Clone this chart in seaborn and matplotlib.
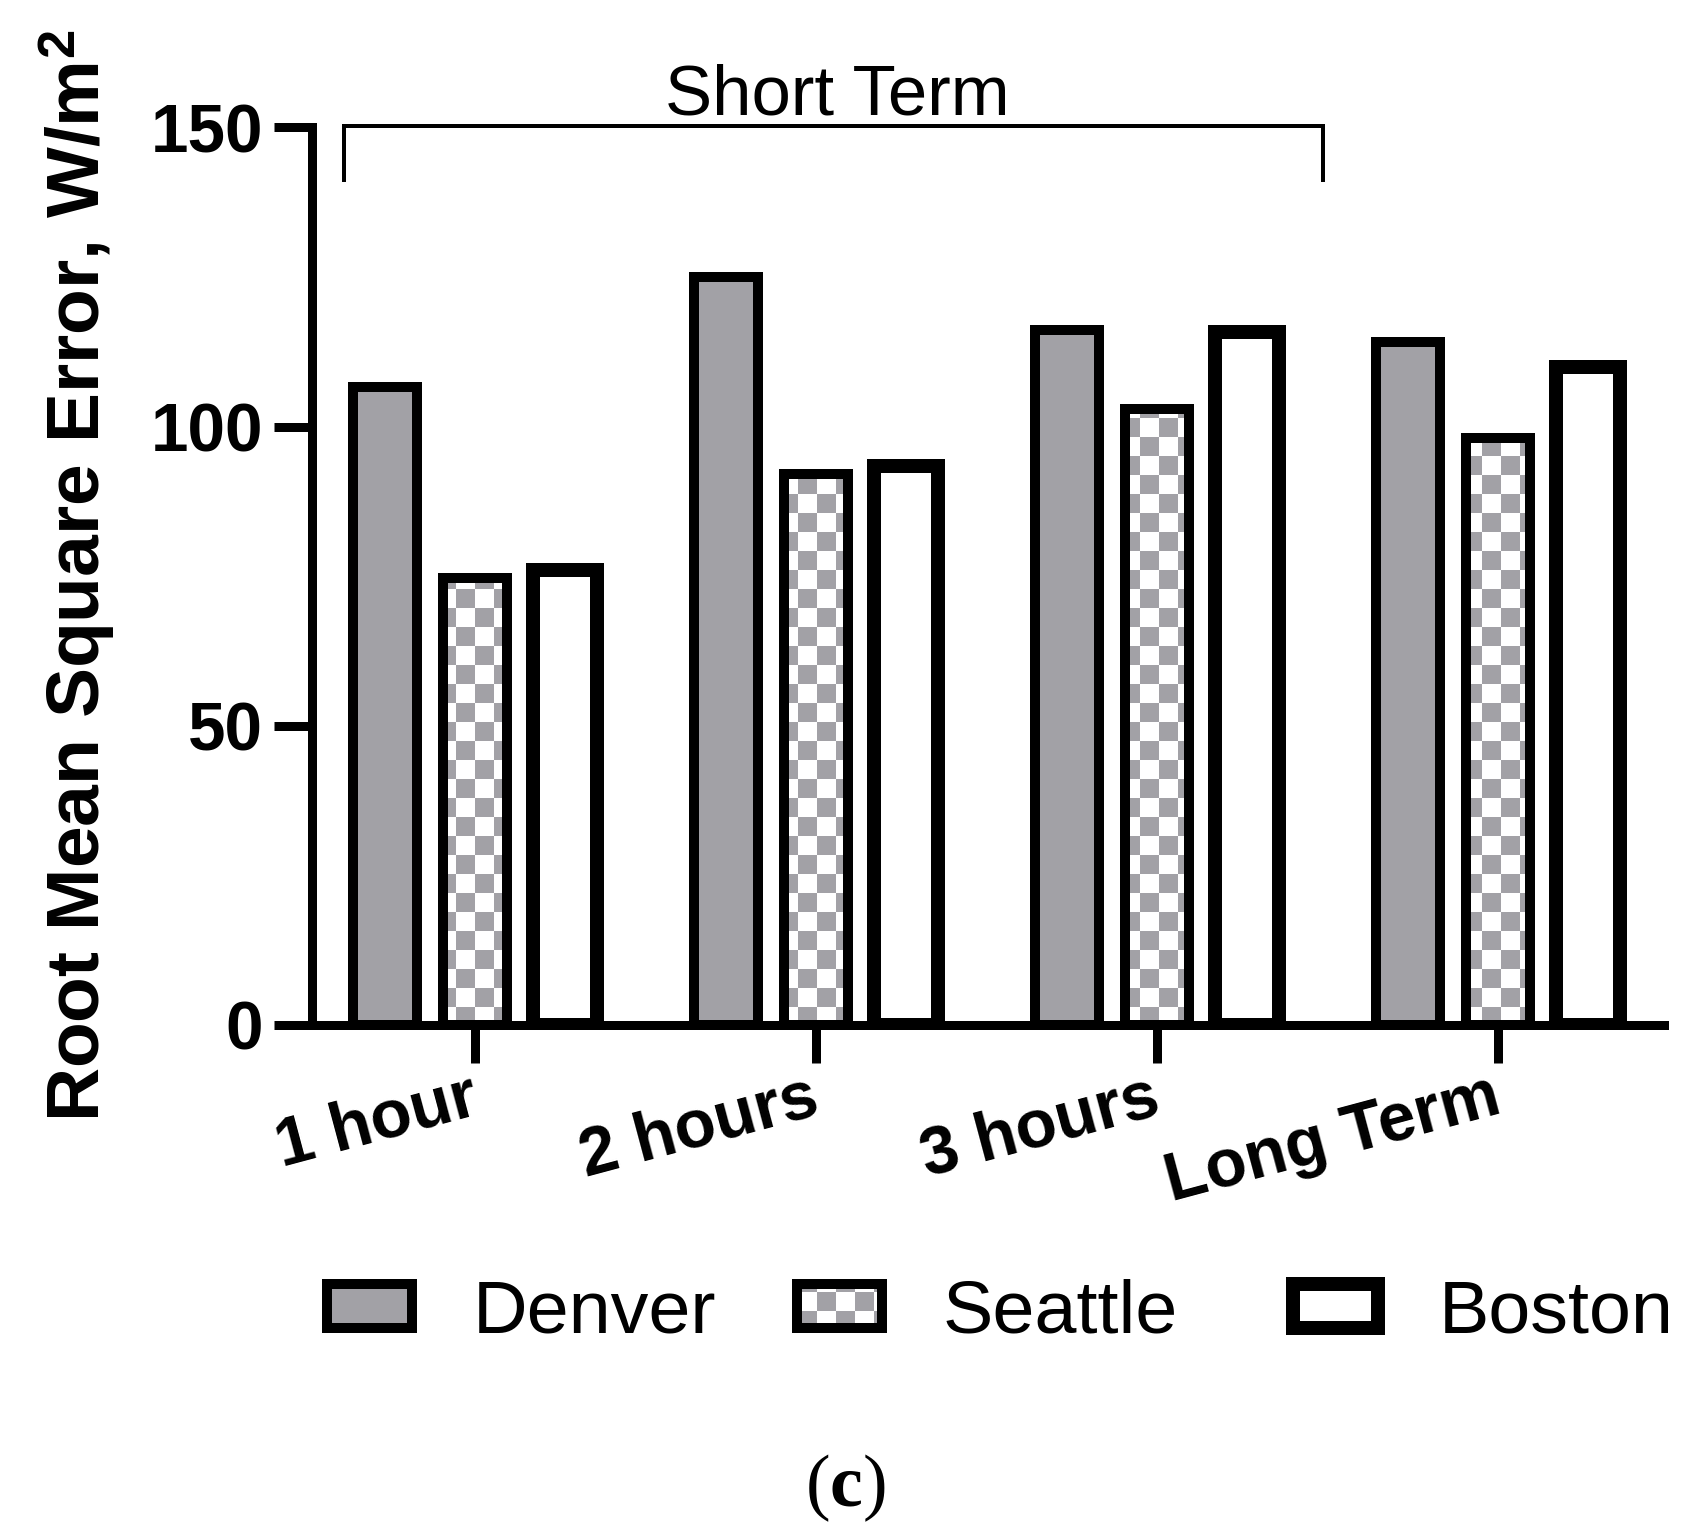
import numpy as np
import pandas as pd
import matplotlib
matplotlib.use("Agg")
import matplotlib.pyplot as plt
import matplotlib.hatch as mhatch
from matplotlib.path import Path
from matplotlib.patches import Patch
from matplotlib.colors import to_rgba
from matplotlib.transforms import ScaledTranslation
import seaborn as sns

# ---------------- data ----------------
horizons = ["1 hour", "2 hours", "3 hours", "Long Term"]
cities = ["Denver", "Seattle", "Boston"]
denver = [106.6, 125.0, 116.1, 114.1]
seattle = [74.7, 92.1, 102.9, 98.1]
boston = [76.0, 93.4, 115.8, 110.0]
y_ticks = [0, 50, 100, 150]
y_label = "Root Mean Square Error, W/m$^{\\mathbf{2}}$"
bracket_label = "Short Term"
panel_label = r"$\mathrm{(}\mathit{c}\mathrm{)}$"

GRAY = "#a2a1a6"
DPI = 76
PT = 72 / DPI  # points per pixel


# ---------------- checkerboard hatch ----------------
class CheckerHatch(mhatch.HatchPatternBase):
    def __init__(self, hatch, density):
        self.n = 4 if "*" in hatch else 0
        self.num_vertices = (self.n * self.n // 2) * 5

    def set_vertices_and_codes(self, vertices, codes):
        s = 1.0 / self.n
        k = 0
        for i in range(self.n):
            for j in range(self.n):
                if (i + j) % 2 == 0:
                    x0, y0 = i * s, j * s
                    vertices[k:k + 5] = [(x0, y0), (x0 + s, y0), (x0 + s, y0 + s),
                                         (x0, y0 + s), (x0, y0)]
                    codes[k] = Path.MOVETO
                    codes[k + 1:k + 4] = Path.LINETO
                    codes[k + 4] = Path.CLOSEPOLY
                    k += 5


mhatch._hatch_types = [t for t in mhatch._hatch_types if t is not mhatch.Stars] + [CheckerHatch]

# ---------------- style ----------------
sns.set_theme(style="ticks")
plt.rcParams["font.family"] = ["Liberation Sans", "DejaVu Sans"]
plt.rcParams["text.color"] = "black"
plt.rcParams["hatch.linewidth"] = 0.0
plt.rcParams["mathtext.fontset"] = "custom"
plt.rcParams["mathtext.rm"] = "Liberation Serif"
plt.rcParams["mathtext.it"] = "Liberation Serif:bold"
plt.rcParams["mathtext.bf"] = "Liberation Sans:bold"

fig = plt.figure(figsize=(1700 / DPI, 1535 / DPI), dpi=DPI)
ax = fig.add_axes([312 / 1700, 1 - 1024.5 / 1535, (1664 - 312) / 1700, (1024.5 - 127.5) / 1535])

df = pd.DataFrame({
    "horizon": horizons * 3,
    "city": np.repeat(cities, len(horizons)),
    "rmse": denver + seattle + boston,
})

sns.barplot(data=df, x="horizon", y="rmse", hue="city", order=horizons, hue_order=cities,
            palette=[GRAY, "white", "white"], saturation=1, width=0.79, gap=0.29,
            errorbar=None, legend=False, edgecolor="black", ax=ax)

lws = {"Denver": 10 * PT, "Seattle": 10 * PT, "Boston": 14 * PT}
for cont, city in zip(ax.containers, cities):
    for bar in cont:
        bar.set_linewidth(lws[city])
        bar.set_edgecolor("black")
        if city == "Seattle":
            bar.set_facecolor("white")
            bar.set_hatch("*")
            bar._hatch_color = to_rgba(GRAY)

ax.set_xlim(-0.478, 3.487)
ax.set_ylim(0, 150)
ax.set_yticks(y_ticks)
ax.set_xlabel("")
sns.despine(ax=ax)
for s in ["left", "bottom"]:
    ax.spines[s].set_linewidth(9 * PT)
    ax.spines[s].set_color("black")

ax.tick_params(axis="both", length=38 * PT, width=9 * PT, direction="out",
               color="black", labelsize=64, labelcolor="black")
ax.tick_params(axis="y", pad=11 * PT)
ax.tick_params(axis="x", pad=2)
for lab in ax.get_yticklabels():
    lab.set_fontweight("bold")
shift = ScaledTranslation(-7 / DPI, 0, fig.dpi_scale_trans)
for lab in ax.get_xticklabels():
    lab.set_fontweight("bold")
    lab.set_rotation(15)
    lab.set_ha("right")
    lab.set_va("top")
    lab.set_rotation_mode("anchor")
    lab.set_transform(lab.get_transform() + shift)

ax.set_ylabel(y_label, fontsize=71, fontweight="bold", color="black")
ax.yaxis.set_label_coords(-0.1445, 0.5)

# bracket for short term
ax.plot([-0.384, -0.384, 2.487, 2.487], [140.9, 150.2, 150.2, 140.9], color="black",
        lw=4 * PT, clip_on=False, solid_joinstyle="miter", solid_capstyle="butt")
ax.text(1.062, 152.1, bracket_label, ha="center", va="baseline", fontsize=67, color="black")

# legend: one entry each, placed like the reference
handles = [
    Patch(facecolor=GRAY, edgecolor="black", linewidth=10 * PT),
    Patch(facecolor="white", edgecolor="black", linewidth=10 * PT, hatch="*"),
    Patch(facecolor="white", edgecolor="black", linewidth=14 * PT),
]
handles[1]._hatch_color = to_rgba(GRAY)
leg_left_px = [327, 797, 1293]
for h, name, xl in zip(handles, cities, leg_left_px):
    fig.legend([h], [name], loc="center left", bbox_to_anchor=(xl / 1700, 1 - 1313 / 1535),
               frameon=False, fontsize=71.5, handlelength=1.127, handleheight=0.52,
               handletextpad=0.8, borderpad=0, borderaxespad=0, labelcolor="black")

fig.text(0.497, 1 - 1488 / 1535, panel_label, fontsize=70, ha="center", va="center")

fig.savefig("out.png", dpi=DPI)
